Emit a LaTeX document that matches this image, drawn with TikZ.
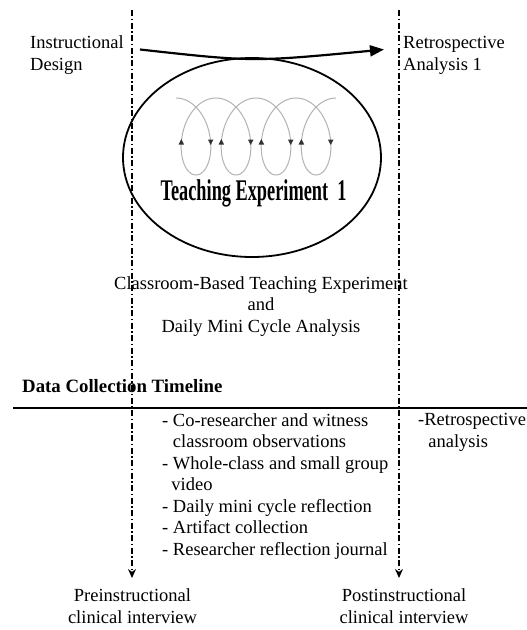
\documentclass[tikz,border=0pt]{standalone}
\usepackage{fontspec}
\setmainfont{Liberation Serif}
\usetikzlibrary{arrows.meta}
\usetikzlibrary{shapes.geometric}

\tikzset{
  txt/.style={font=\fontsize{18.5}{21.5}\selectfont, inner sep=0pt},
  phase/.style={line width=1.4pt, dash pattern=on 6pt off 2.5pt on 1.5pt off 2.5pt, -{Stealth[length=9pt,width=8pt]}},
  loopmark/.style={fill=black!80},
}

\begin{document}
\begin{tikzpicture}[x=1pt,y=-1pt]
            \useasboundingbox (0,0) rectangle (527,630);

            \coordinate (pretop) at (132,10);
            \coordinate (preend) at (132,578);
            \coordinate (posttop) at (399,10);
            \coordinate (postend) at (399,578);
            \draw[phase] (pretop) -- (preend);
            \draw[phase] (posttop) -- (postend);

            \node[txt, align=left, anchor=base west] (design) at (30,70) {Instructional\\Design};
            \node[txt, align=left, anchor=base west] (retro) at (403,70) {Retrospective\\Analysis 1};

            \node[ellipse, draw, line width=1.8pt, minimum width=258pt, minimum height=199pt, inner sep=0pt] (te) at (252,157.5) {};

            \coordinate (designout) at (140,49.5);
            \coordinate (retroin) at (384,49.5);
            \draw[line width=2.2pt, -{Triangle[length=14pt,width=11pt]}] (designout) .. controls (253,62) .. (retroin);

            \draw[gray!60, line width=1pt, domain=-pi:7*pi, samples=400, variable=\t] plot ({196+6.37*\t-24*sin(\t r)}, {136.5+38.5*cos(\t r)});
            \foreach \k in {0,...,3} {
              \pgfmathsetmacro{\cx}{196+40.02*\k}
              \fill[loopmark] (\cx+14.7-2.8,139.5) -- (\cx+14.7+2.8,139.5) -- (\cx+14.7,145) -- cycle;
              \fill[loopmark] (\cx-14.7-2.8,144.5) -- (\cx-14.7+2.8,144.5) -- (\cx-14.7,139) -- cycle;
            }

            \node[anchor=base, inner sep=0pt, font=\bfseries\fontsize{30}{32}\selectfont] (te1) at (253.5,200) {\scalebox{0.61}[1]{Teaching Experiment\hspace{0.5em}1}};

            \node[txt, align=center, anchor=base] (cbte) at (261,332) {Classroom-Based Teaching Experiment\\and\\Daily Mini Cycle Analysis};

            \node[txt, font=\bfseries\fontsize{18.8}{21.5}\selectfont, anchor=base west] (dct) at (22,392) {Data Collection Timeline};
            \coordinate (tlw) at (13,408);
            \coordinate (tle) at (527,408);
            \draw[line width=2.4pt] (tlw) -- (tle);

            \node[txt, align=left, anchor=base west] (obs) at (162,555) {- Co-researcher and witness\\\hspace*{0.58em}classroom observations\\- Whole-class and small group\\\hspace*{0.5em}video\\- Daily mini cycle reflection\\- Artifact collection\\- Researcher reflection journal};
            \node[txt, align=left, anchor=base west] (retroan) at (418,447) {-Retrospective\\\hspace*{0.55em}analysis};

            \node[txt, align=center, anchor=base] (pre) at (132.5,623) {Preinstructional\\clinical interview};
            \node[txt, align=center, anchor=base] (post) at (404,623) {Postinstructional\\clinical interview};
        \end{tikzpicture}
\end{document}
